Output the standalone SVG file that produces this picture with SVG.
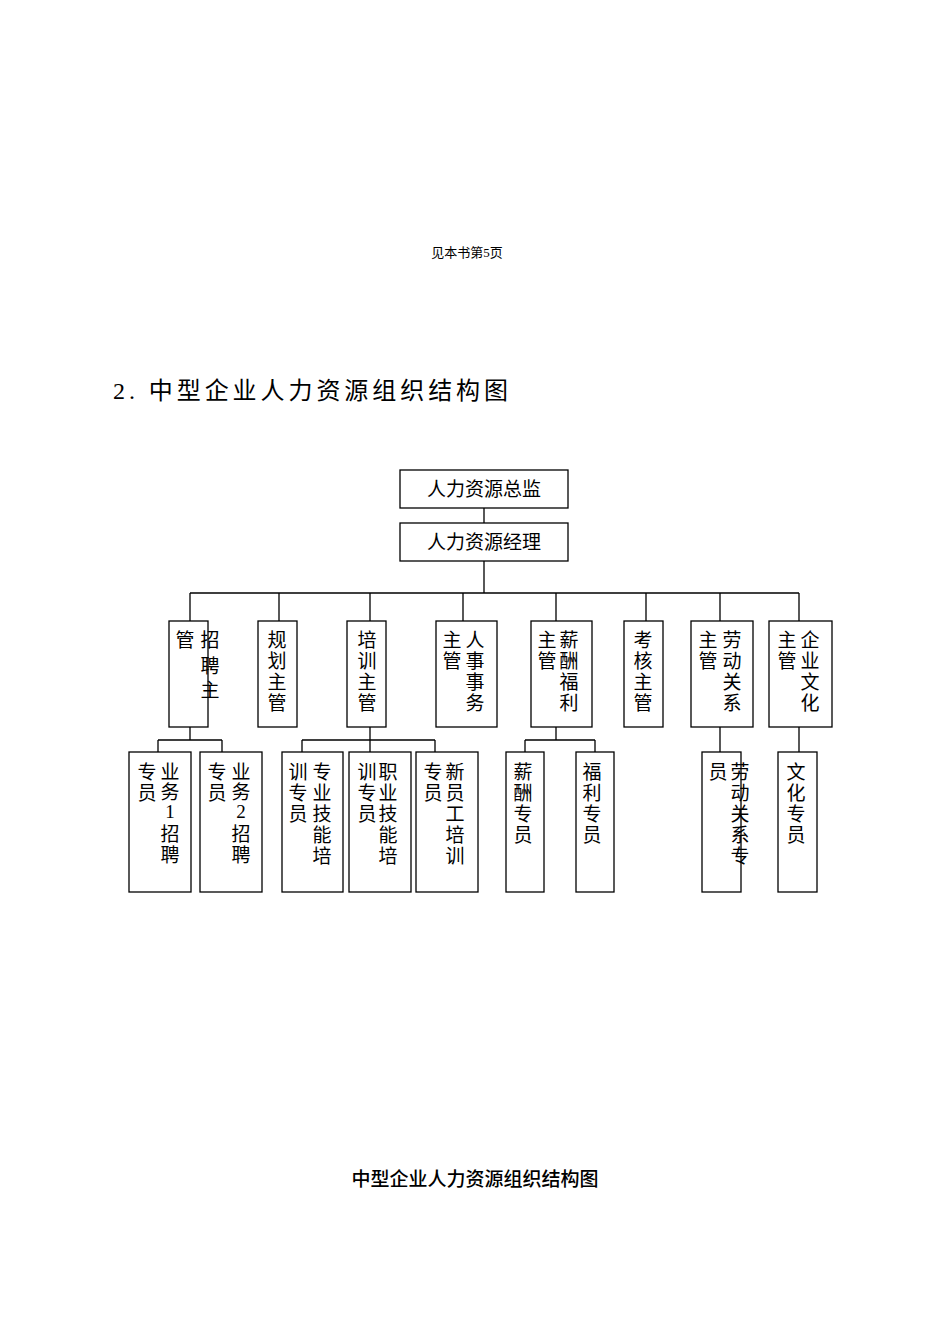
<svg xmlns="http://www.w3.org/2000/svg" width="950" height="1342" viewBox="0 0 950 1342">
<style>
.b{fill:#fff;stroke:#000;stroke-width:1.3}
.t{font-family:"Liberation Serif","Noto Sans CJK SC",serif;font-size:19px;text-anchor:middle;fill:#000}
.c{fill:none;stroke:#000;stroke-width:1.3}
</style>
<rect width="950" height="1342" fill="#fff"/>
<text x="467" y="257" style="font-family:'Liberation Serif','Noto Sans CJK SC',serif;font-size:13px;text-anchor:middle">见本书第5页</text>
<text x="113" y="399" textLength="395" style="font-family:'Liberation Serif','Noto Sans CJK SC',serif;font-size:24px">2. 中型企业人力资源组织结构图</text>
<text x="475" y="1186" style="font-family:'Noto Sans CJK SC',sans-serif;font-size:19px;text-anchor:middle;font-weight:500">中型企业人力资源组织结构图</text>
<g id="connectors">
<path class="c" d="M484 508V523M484 561V593M190 593H799M190 593V621M279 593V621M370 593V621M463 593V621M556 593V621M646 593V621M720 593V621M799 593V621"/>
<path class="c" d="M190 727V740M158 740H222M158 740V752M222 740V752"/>
<path class="c" d="M370 727V752M302 740H435M302 740V752M435 740V752"/>
<path class="c" d="M556 727V740M525 740H595M525 740V752M595 740V752"/>
<path class="c" d="M720 727V752M799 727V752"/>
</g>
<g id="n1"><rect class="b" x="400" y="470" width="168" height="38"/><text class="t" x="484" y="496">人力资源总监</text></g>
<g id="n2"><rect class="b" x="400" y="523" width="168" height="38"/><text class="t" x="484" y="549">人力资源经理</text></g>
<g id="zp"><rect class="b" x="169" y="621" width="39" height="106"/><text class="t" x="185" y="647">管</text><text class="t" x="210" y="647">招</text><text class="t" x="210" y="673">聘</text><text class="t" x="210" y="697">主</text></g>
<g id="gh"><rect class="b" x="258" y="621" width="39" height="106"/><text class="t" x="277" y="647">规</text><text class="t" x="277" y="668">划</text><text class="t" x="277" y="689">主</text><text class="t" x="277" y="710">管</text></g>
<g id="px"><rect class="b" x="347" y="621" width="39" height="106"/><text class="t" x="367" y="647">培</text><text class="t" x="367" y="668">训</text><text class="t" x="367" y="689">主</text><text class="t" x="367" y="710">管</text></g>
<g id="rs"><rect class="b" x="436" y="621" width="61" height="106"/><text class="t" x="452" y="647">主</text><text class="t" x="452" y="668">管</text><text class="t" x="475" y="647">人</text><text class="t" x="475" y="668">事</text><text class="t" x="475" y="689">事</text><text class="t" x="475" y="710">务</text></g>
<g id="xc"><rect class="b" x="531" y="621" width="61" height="106"/><text class="t" x="547" y="647">主</text><text class="t" x="547" y="668">管</text><text class="t" x="569" y="647">薪</text><text class="t" x="569" y="668">酬</text><text class="t" x="569" y="689">福</text><text class="t" x="569" y="710">利</text></g>
<g id="kh"><rect class="b" x="624" y="621" width="39" height="106"/><text class="t" x="643" y="647">考</text><text class="t" x="643" y="668">核</text><text class="t" x="643" y="689">主</text><text class="t" x="643" y="710">管</text></g>
<g id="ld"><rect class="b" x="691" y="621" width="62" height="106"/><text class="t" x="708" y="647">主</text><text class="t" x="708" y="668">管</text><text class="t" x="732" y="647">劳</text><text class="t" x="732" y="668">动</text><text class="t" x="732" y="689">关</text><text class="t" x="732" y="710">系</text></g>
<g id="wh"><rect class="b" x="769" y="621" width="63" height="106"/><text class="t" x="787" y="647">主</text><text class="t" x="787" y="668">管</text><text class="t" x="810" y="647">企</text><text class="t" x="810" y="668">业</text><text class="t" x="810" y="689">文</text><text class="t" x="810" y="710">化</text></g>
<g id="z1"><rect class="b" x="129" y="752" width="62" height="140"/><text class="t" x="147" y="779">专</text><text class="t" x="147" y="800">员</text><text class="t" x="170" y="779">业</text><text class="t" x="170" y="799">务</text><text class="t" x="170" y="818">1</text><text class="t" x="170" y="841">招</text><text class="t" x="170" y="862">聘</text></g>
<g id="z2"><rect class="b" x="200" y="752" width="62" height="140"/><text class="t" x="217" y="779">专</text><text class="t" x="217" y="800">员</text><text class="t" x="241" y="779">业</text><text class="t" x="241" y="799">务</text><text class="t" x="241" y="818">2</text><text class="t" x="241" y="841">招</text><text class="t" x="241" y="862">聘</text></g>
<g id="p1"><rect class="b" x="282" y="752" width="61" height="140"/><text class="t" x="298" y="779">训</text><text class="t" x="298" y="800">专</text><text class="t" x="298" y="821">员</text><text class="t" x="322" y="779">专</text><text class="t" x="322" y="800">业</text><text class="t" x="322" y="821">技</text><text class="t" x="322" y="842">能</text><text class="t" x="322" y="863">培</text></g>
<g id="p2"><rect class="b" x="349" y="752" width="62" height="140"/><text class="t" x="367" y="779">训</text><text class="t" x="367" y="800">专</text><text class="t" x="367" y="821">员</text><text class="t" x="388" y="779">职</text><text class="t" x="388" y="800">业</text><text class="t" x="388" y="821">技</text><text class="t" x="388" y="842">能</text><text class="t" x="388" y="863">培</text></g>
<g id="p3"><rect class="b" x="416" y="752" width="62" height="140"/><text class="t" x="433" y="779">专</text><text class="t" x="433" y="800">员</text><text class="t" x="455" y="779">新</text><text class="t" x="455" y="800">员</text><text class="t" x="455" y="821">工</text><text class="t" x="455" y="842">培</text><text class="t" x="455" y="863">训</text></g>
<g id="x1"><rect class="b" x="506" y="752" width="38" height="140"/><text class="t" x="523" y="779">薪</text><text class="t" x="523" y="800">酬</text><text class="t" x="523" y="821">专</text><text class="t" x="523" y="842">员</text></g>
<g id="x2"><rect class="b" x="576" y="752" width="38" height="140"/><text class="t" x="592" y="779">福</text><text class="t" x="592" y="800">利</text><text class="t" x="592" y="821">专</text><text class="t" x="592" y="842">员</text></g>
<g id="l1"><rect class="b" x="702" y="752" width="39" height="140"/><text class="t" x="718" y="779">员</text><text class="t" x="740" y="779">劳</text><text class="t" x="740" y="800">动</text><text class="t" x="740" y="821">关</text><text class="t" x="740" y="842">系</text><text class="t" x="740" y="863">专</text></g>
<g id="w1"><rect class="b" x="778" y="752" width="39" height="140"/><text class="t" x="796" y="779">文</text><text class="t" x="796" y="800">化</text><text class="t" x="796" y="821">专</text><text class="t" x="796" y="842">员</text></g>
</svg>
